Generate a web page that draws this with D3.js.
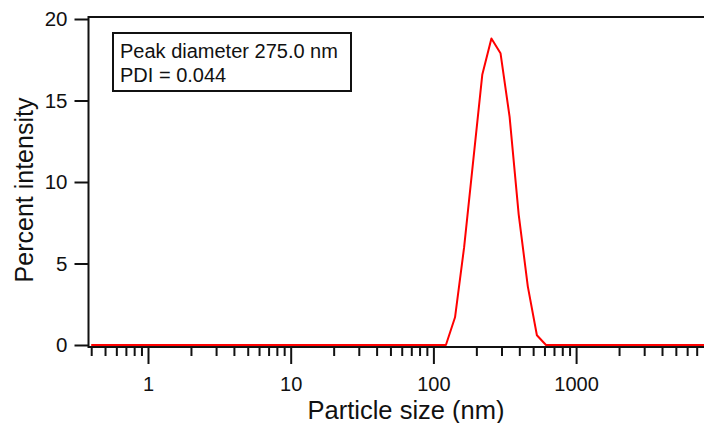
<!DOCTYPE html>
<html>
<head>
<meta charset="utf-8">
<script src="https://cdn.jsdelivr.net/npm/d3@7"></script>
<style>
  html, body { margin: 0; padding: 0; background: #fff; }
  svg text { font-family: "Liberation Sans", Arial, sans-serif; fill: #111; }
</style>
</head>
<body>
<div id="chart"></div>
<script>
// particle size bins (nm) and percent intensity
const sizes = [0.4, 122.4, 141.8, 164.2, 190.1, 220.2, 255.0, 295.3, 342.0, 396.1, 458.7, 531.2, 615.1, 10000];
const intensity = [0, 0, 1.7, 6.0, 11.3, 16.6, 18.8, 17.9, 14.0, 8.0, 3.6, 0.6, 0, 0];
const majorTicks = [1, 10, 100, 1000];
const yTicks = [0, 5, 10, 15, 20];
const legendLines = ["Peak diameter 275.0 nm", "PDI = 0.044"];

const w = 704, h = 423;
const svg = d3.select("#chart").append("svg")
    .attr("width", w)
    .attr("height", h);

const x = d3.scaleLog()
    .domain([0.386, 10000])
    .range([89, 718.8]);

const y = d3.scaleLinear()
    .domain([0, 20])
    .range([345, 19]);

// frame
svg.append("rect")
    .attr("x", 88.5)
    .attr("y", 17)
    .attr("width", 640)
    .attr("height", 330)
    .attr("fill", "none")
    .attr("stroke", "#111")
    .attr("stroke-width", 2);

// x axis, minor ticks
const minorTicks = x.ticks().filter(d => majorTicks.indexOf(d) < 0 && d !== 10000);
svg.append("g")
    .attr("transform", "translate(0,347)")
    .call(d3.axisBottom(x).tickValues(minorTicks).tickSize(9).tickFormat(""))
    .call(g => g.select(".domain").remove())
    .call(g => g.selectAll(".tick line").attr("stroke", "#111").attr("stroke-width", 2));

// x axis, major ticks
svg.append("g")
    .attr("transform", "translate(0,347)")
    .call(d3.axisBottom(x).tickValues(majorTicks).tickSize(17).tickPadding(13).tickFormat(d3.format("d")))
    .call(g => g.select(".domain").remove())
    .call(g => g.selectAll(".tick line").attr("stroke", "#111").attr("stroke-width", 2))
    .call(g => g.selectAll(".tick text").attr("font-size", "20px"));

// y axis
svg.append("g")
    .attr("transform", "translate(88.5,0)")
    .call(d3.axisLeft(y).tickValues(yTicks).tickSize(14).tickPadding(7))
    .call(g => g.select(".domain").remove())
    .call(g => g.selectAll(".tick line").attr("stroke", "#111").attr("stroke-width", 2))
    .call(g => g.selectAll(".tick text").attr("font-size", "20.5px"));

// axis titles
svg.append("text")
    .attr("x", 406)
    .attr("y", 418.5)
    .attr("text-anchor", "middle")
    .attr("font-size", "25.5px")
    .text("Particle size (nm)");

svg.append("text")
    .attr("transform", "translate(33,190) rotate(-90)")
    .attr("text-anchor", "middle")
    .attr("font-size", "25px")
    .text("Percent intensity");

// distribution curve
const line = d3.line()
    .x(d => x(d[0]))
    .y(d => y(d[1]));

svg.append("path")
    .datum(d3.zip(sizes, intensity))
    .attr("d", line)
    .attr("fill", "none")
    .attr("stroke", "#f00")
    .attr("stroke-width", 2)
    .attr("stroke-linejoin", "round");

// legend box
const legend = svg.append("g");
legend.append("rect")
    .attr("x", 113)
    .attr("y", 33)
    .attr("width", 238)
    .attr("height", 58)
    .attr("fill", "#fff")
    .attr("stroke", "#111")
    .attr("stroke-width", 2);

legend.selectAll("text")
    .data(legendLines)
    .enter()
    .append("text")
    .attr("x", 120)
    .attr("y", (d, i) => 57.5 + i * 24.7)
    .attr("font-size", "20px")
    .text(d => d);
</script>
</body>
</html>
